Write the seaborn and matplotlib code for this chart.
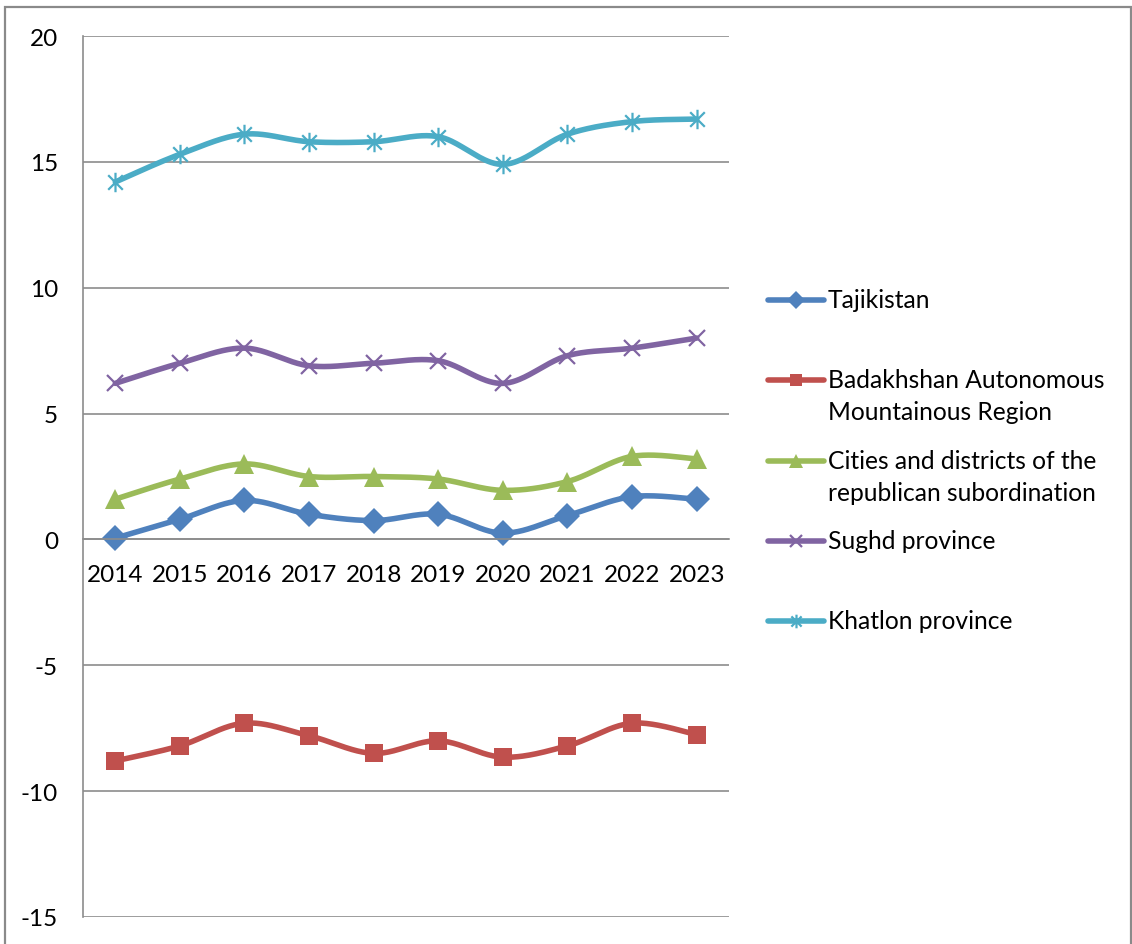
import numpy as np
import pandas as pd
import seaborn as sns
import matplotlib.pyplot as plt
from matplotlib.path import Path
from matplotlib.lines import Line2D
from matplotlib.patches import Rectangle

# ---- data ----
years = ['2014', '2015', '2016', '2017', '2018', '2019', '2020', '2021', '2022', '2023']
tajikistan = [0.05, 0.8, 1.55, 1.0, 0.75, 1.0, 0.25, 0.95, 1.7, 1.6]
badakhshan = [-8.8, -8.2, -7.3, -7.8, -8.5, -8.0, -8.65, -8.2, -7.3, -7.75]
cities_districts = [1.6, 2.4, 3.0, 2.5, 2.5, 2.4, 1.95, 2.3, 3.3, 3.2]
sughd = [6.2, 7.0, 7.6, 6.9, 7.0, 7.1, 6.2, 7.3, 7.6, 8.0]
khatlon = [14.2, 15.3, 16.1, 15.8, 15.8, 16.0, 14.9, 16.1, 16.6, 16.7]

series_names = ['Tajikistan', 'Badakhshan Autonomous\nMountainous Region',
                'Cities and districts of the\nrepublican subordination',
                'Sughd province', 'Khatlon province']
series_values = [tajikistan, badakhshan, cities_districts, sughd, khatlon]
colors = ['#4F81BD', '#C0504D', '#9BBB59', '#8064A2', '#4BACC6']

# asterisk-style marker: vertical bar plus a cross
star_path = Path([(0, -1), (0, 1), (-0.75, -0.75), (0.75, 0.75), (-0.75, 0.75), (0.75, -0.75)],
                 [Path.MOVETO, Path.LINETO, Path.MOVETO, Path.LINETO, Path.MOVETO, Path.LINETO])

marker_styles = [
    dict(marker='D', markersize=13, markeredgewidth=0),
    dict(marker='s', markersize=12.5, markeredgewidth=0),
    dict(marker='^', markersize=14, markeredgewidth=0),
    dict(marker='x', markersize=11.5, markeredgewidth=1.6),
    dict(marker=star_path, markersize=14, markeredgewidth=1.6),
]
legend_marker_scale = 0.7


def smooth_curve(yvals, steps=40):
    """Cardinal-spline smoothing through the points (category positions)."""
    y = np.asarray(yvals, dtype=float)
    x = np.arange(len(y), dtype=float)
    xp = np.concatenate([[x[0]], x, [x[-1]]])
    yp = np.concatenate([[y[0]], y, [y[-1]]])
    xs, ys = [], []
    t = np.linspace(0, 1, steps)
    for i in range(1, len(xp) - 2):
        p0 = np.array([xp[i], yp[i]])
        p3 = np.array([xp[i + 1], yp[i + 1]])
        c1 = p0 + (np.array([xp[i + 1], yp[i + 1]]) - np.array([xp[i - 1], yp[i - 1]])) / 6.0
        c2 = p3 - (np.array([xp[i + 2], yp[i + 2]]) - np.array([xp[i], yp[i]])) / 6.0
        b = ((1 - t) ** 3)[:, None] * p0 + (3 * (1 - t) ** 2 * t)[:, None] * c1 \
            + (3 * (1 - t) * t ** 2)[:, None] * c2 + (t ** 3)[:, None] * p3
        xs.append(b[:, 0])
        ys.append(b[:, 1])
    return np.concatenate(xs), np.concatenate(ys)


sns.set_theme(style='white')
plt.rcParams['font.family'] = ['Lato', 'DejaVu Sans']
plt.rcParams['axes.unicode_minus'] = False

fig = plt.figure(figsize=(11.32, 9.45), dpi=100)
W, H = 1132, 945
ax = fig.add_axes([83 / W, 1 - 918 / H, (729 - 83) / W, (918 - 37) / H])

grid_color = '#8C8C8C'
line_w = 4.0
for name, vals, col, ms in zip(series_names, series_values, colors, marker_styles):
    xs, ys = smooth_curve(vals)
    curve = pd.DataFrame({'x': xs, 'y': ys})
    sns.lineplot(data=curve, x='x', y='y', color=col, linewidth=line_w, sort=False,
                 estimator=None, ax=ax, solid_capstyle='round')
    pts = pd.DataFrame({'x': np.arange(len(years)), 'y': vals})
    sns.lineplot(data=pts, x='x', y='y', color=col, linestyle='', markeredgecolor=col,
                 ax=ax, **ms)

ax.set_xlim(-0.5, len(years) - 0.5)
ax.set_ylim(-15, 20)
ax.set_yticks(np.arange(-15, 21, 5))
ax.set_xticks(np.arange(len(years)))
ax.set_xticklabels(years)
ax.set_xlabel('')
ax.set_ylabel('')
ax.grid(axis='y', color=grid_color, linewidth=1.2)
ax.grid(axis='x', visible=False)
ax.set_axisbelow(True)

for side in ['top', 'right']:
    ax.spines[side].set_visible(False)
ax.spines['left'].set_color(grid_color)
ax.spines['left'].set_linewidth(1.2)
ax.spines['bottom'].set_position(('data', 0))
ax.spines['bottom'].set_color(grid_color)
ax.spines['bottom'].set_linewidth(1.2)
ax.tick_params(axis='both', length=0, labelsize=17.5, colors='black')
ax.tick_params(axis='y', pad=18)
ax.tick_params(axis='x', pad=18)

# legend on the right, one entry per series
legend_y = [301, 381, 462, 542, 622]
for name, col, ms, py in zip(series_names, colors, marker_styles, legend_y):
    yf = 1 - py / H
    fig.add_artist(Line2D([768 / W, 824 / W], [yf, yf], transform=fig.transFigure,
                          color=col, linewidth=line_w, solid_capstyle='round'))
    lms = dict(ms)
    lms['markersize'] = ms['markersize'] * legend_marker_scale
    fig.add_artist(Line2D([796 / W], [yf], transform=fig.transFigure, color=col,
                          markeredgecolor=col, linestyle='', **lms))
    fig.text(828 / W, 1 - (py - 12) / H, name, fontsize=17.7, va='top', ha='left',
             linespacing=1.45, color='black')

# outer chart border
fig.add_artist(Rectangle((5 / W, -0.05), (1131 - 5) / W, 1.05 - 8 / H,
                         transform=fig.transFigure, fill=False, edgecolor='#8A8A8A',
                         linewidth=1.6))

fig.savefig('out.png', dpi=100)
